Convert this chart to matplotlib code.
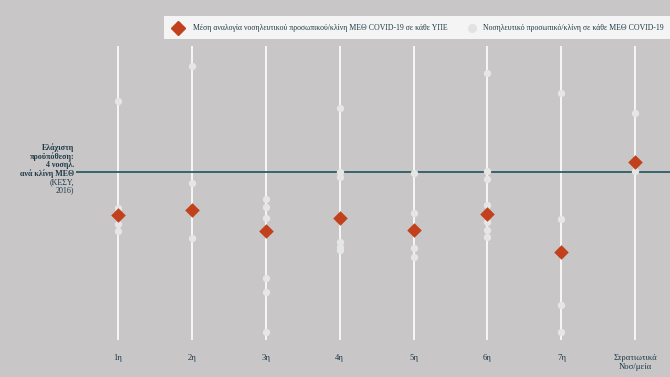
import matplotlib.pyplot as plt
from matplotlib.lines import Line2D
from matplotlib.patches import Rectangle

plt.rcParams['font.family'] = ['Liberation Serif', 'DejaVu Serif']

categories = ["1η", "2η", "3η", "4η", "5η", "6η", "7η", "Στρατιωτικά\nΝοσ/μεία"]

unit_values = [
    [5.43, 3.29, 3.10, 2.97, 2.83],
    [6.12, 3.79, 2.68],
    [3.47, 3.30, 3.08, 2.78, 1.89, 1.61, 0.80],
    [5.29, 4.01, 3.91, 2.60, 2.51, 2.45],
    [3.99, 3.19, 2.49, 2.31],
    [5.99, 4.02, 3.87, 3.34, 3.01, 2.85, 2.71],
    [5.59, 3.07, 1.34, 0.80],
    [5.19, 4.02],
]

mean_values = [3.14, 3.24, 2.83, 3.09, 2.85, 3.17, 2.41, 4.19]

threshold = 4

legend_labels = ["Μέση αναλογία νοσηλευτικού προσωπικού/κλίνη ΜΕΘ COVID-19 σε κάθε ΥΠΕ",
                 "Νοσηλευτικό προσωπικό/κλίνη σε κάθε ΜΕΘ COVID-19"]

bg = '#c8c6c7'
dot_color = '#e6e6e6'
mean_color = '#c2401c'
line_color = '#2d5c66'
text_color = '#1f3a48'

W, H = 670, 377
fig = plt.figure(figsize=(6.7, 3.77), dpi=100)
fig.patch.set_facecolor(bg)

ax = fig.add_axes([76/W, 1 - 340/H, 594/W, 294/H])
ax.set_facecolor(bg)

xs = list(range(len(categories)))

for x, vals in zip(xs, unit_values):
    ax.axvline(x, color='white', lw=1.2, zorder=1)
    ax.scatter([x]*len(vals), vals, s=28, color=dot_color, zorder=3, linewidths=0)

ax.axhline(threshold, color=line_color, lw=1.3, zorder=2)

ax.scatter(xs, mean_values, marker='D', s=55, color=mean_color, zorder=4, linewidths=0)

ax.set_xlim(-0.569, 7.47)
ax.set_ylim(0.64, 6.52)
for s in ax.spines.values():
    s.set_visible(False)
ax.set_yticks([])
ax.set_xticks(xs)
ax.set_xticklabels(categories, fontsize=6.2, color=text_color, linespacing=1.2)
ax.tick_params(axis='x', length=0, pad=10)

# threshold annotation
fig.text(74/W, 1 - 143/H, "Ελάχιστη\nπροϋπόθεση:\n4 νοσηλ.\nανά κλίνη ΜΕΘ",
         ha='right', va='top', fontsize=5.8, fontweight='bold', color=text_color,
         linespacing=1.05)
fig.text(74/W, 1 - 178/H, "(ΚΕΣΥ,\n2016)",
         ha='right', va='top', fontsize=5.8, color=text_color, linespacing=1.05)

# legend box
fig.patches.append(Rectangle((164/W, 1 - 39/H), (W - 164)/W, 23/H,
                             transform=fig.transFigure, facecolor='#f4f4f4',
                             edgecolor='none', zorder=0))
ly = 1 - 27.5/H
fig.add_artist(Line2D([178/W], [ly], marker='D', color=mean_color, linestyle='none',
                      markersize=7, transform=fig.transFigure))
fig.add_artist(Line2D([472/W], [ly], marker='o', color='#e2e2e2', linestyle='none',
                      markersize=5.5, transform=fig.transFigure))
fig.text(193/W, ly, legend_labels[0], ha='left', va='center', fontsize=5.6, color=text_color)
fig.text(483/W, ly, legend_labels[1], ha='left', va='center', fontsize=5.6, color=text_color)

fig.savefig('out.png', dpi=100, facecolor=bg)
